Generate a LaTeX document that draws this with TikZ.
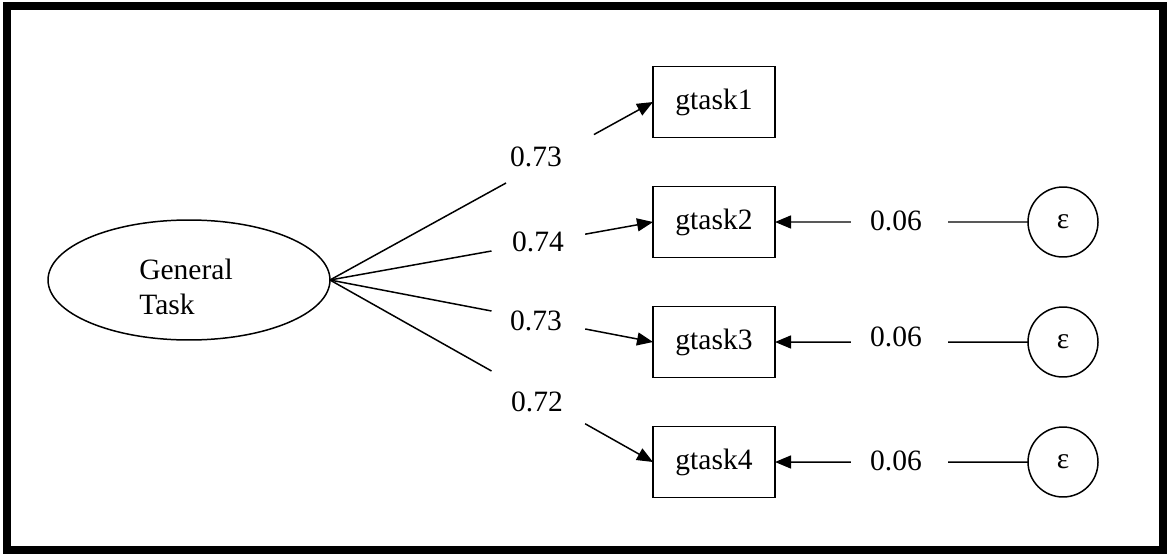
\documentclass[tikz,border=0pt]{standalone}
\usepackage{fontspec}
\setmainfont{Liberation Serif}
\usepackage{tikz}
\usetikzlibrary{shapes,arrows.meta,calc}
\tikzstyle{latent} = [draw, ellipse, minimum width=5.64cm, minimum height=2.4cm, inner sep=0pt, outer sep=0pt]
\tikzstyle{indic} = [draw, rectangle, minimum width=2.44cm, minimum height=1.42cm, inner sep=0pt, outer sep=0pt]
\tikzstyle{err} = [draw, circle, minimum size=1.4cm, inner sep=0pt, outer sep=0pt]
\tikzstyle{coef} = [inner sep=0pt]
\tikzstyle{load} = [-{Triangle[length=0.32cm,width=0.26cm]}]

\begin{document}
\begin{tikzpicture}[x=0.02cm, y=-0.02cm, line width=0.85pt, font=\fontsize{16.8pt}{19.9pt}\selectfont]
	\useasboundingbox (0,0) rectangle (1168,554);
	\draw[line width=0.16cm] (7,6) rectangle (1163,550);
	% factor
	\node[latent] (G) at (189,280) {};
	\node[align=left] (Gtext) at (186,287) {General\\Task};
	% indicators
	\node[indic] (g1) at (714,102) {gtask1};
	\node[indic] (g2) at (714,222) {gtask2};
	\node[indic] (g3) at (714,342) {gtask3};
	\node[indic] (g4) at (714,462) {gtask4};
	% errors
	\node[err] (e2) at (1063,222) {ε};
	\node[err] (e3) at (1063,342) {ε};
	\node[err] (e4) at (1063,462) {ε};
	% loadings
	\node[coef] (c1) at (536,157) {0.73};
	\node[coef] (c2) at (538,242) {0.74};
	\node[coef] (c3) at (536,321) {0.73};
	\node[coef] (c4) at (537,402) {0.72};
	\node[coef] (r2) at (896,221) {0.06};
	\node[coef] (r3) at (896,337) {0.06};
	\node[coef] (r4) at (896,461) {0.06};
	\draw (G.east) -- ($(G.east)!0.545!(g1.west)$);
	\draw[load] ($(G.east)!0.817!(g1.west)$) -- (g1.west);
	\draw (G.east) -- ($(G.east)!0.50!(g2.west)$);
	\draw[load] ($(G.east)!0.79!(g2.west)$) -- (g2.west);
	\draw (G.east) -- ($(G.east)!0.50!(g3.west)$);
	\draw[load] ($(G.east)!0.79!(g3.west)$) -- (g3.west);
	\draw (G.east) -- ($(G.east)!0.50!(g4.west)$);
	\draw[load] ($(G.east)!0.79!(g4.west)$) -- (g4.west);
	\draw (e2.west) -- ($(e2.west)!0.316!(g2.east)$);
	\draw[load] ($(e2.west)!0.70!(g2.east)$) -- (g2.east);
	\draw (e3.west) -- ($(e3.west)!0.316!(g3.east)$);
	\draw[load] ($(e3.west)!0.70!(g3.east)$) -- (g3.east);
	\draw (e4.west) -- ($(e4.west)!0.316!(g4.east)$);
	\draw[load] ($(e4.west)!0.70!(g4.east)$) -- (g4.east);
\end{tikzpicture}
\end{document}
